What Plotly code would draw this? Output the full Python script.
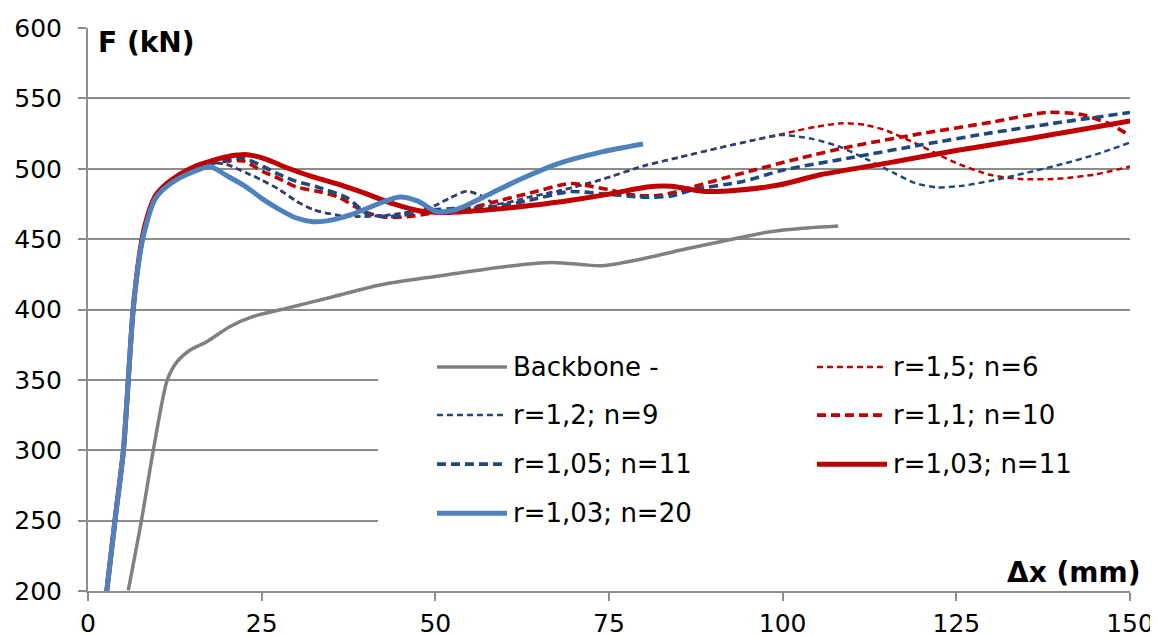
import plotly.graph_objects as go

# ---------------- data ----------------
backbone_x = [5.8, 7.7, 9.4, 11.4, 12.8, 14.7, 17.1, 20.4, 23.7, 28.6, 35.3, 42.0, 50.0, 57.0,
              64.6, 67.5, 71.0, 74.1, 79.0, 86.0, 93.4, 98.2, 103.0, 108.0]
backbone_y = [200.5, 250.3, 300.0, 349.8, 362.8, 371.2, 377.1, 387.8, 394.9, 400.9, 409.1, 417.4,
              423.5, 428.5, 432.9, 433.3, 432.0, 431.1, 435.2, 443.0, 450.6, 455.3, 457.8, 459.4]

r15_x = [2.7, 4.0, 5.1, 6.5, 7.5, 8.2, 9.6, 11.0, 13.2, 15.5, 18.0, 20.0, 22.8, 25.0, 27.6, 30.0,
         32.4, 35.8, 39.0, 43.0, 47.0, 50.0, 52.0, 54.5, 56.5, 58.8, 63.6, 68.0, 73.7, 80.0, 85.0,
         91.0, 96.0, 99.0, 102.0, 105.0, 108.7, 112.0, 115.0, 120.0, 125.0, 130.0, 134.6, 140.0,
         145.0, 150.0]
r15_y = [200, 255, 300, 400, 441, 459, 479, 487, 495, 500, 504, 503, 497, 492, 485, 477,
         471, 467.2, 466, 467, 470, 474, 479, 484, 481, 475, 480, 484.5, 492, 502, 508,
         515, 520.5, 523.5, 527, 530, 532.4, 531, 527, 516, 504, 495.5, 492.6, 493,
         496, 501.6]

r12_x = [2.7, 4.0, 5.1, 6.5, 7.5, 8.2, 9.6, 11.0, 13.2, 15.5, 18.0, 20.0, 22.8, 25.0, 27.6, 30.0,
         32.4, 35.8, 39.0, 43.0, 47.0, 50.0, 52.0, 54.5, 56.5, 58.8, 63.6, 68.0, 73.7, 80.0, 85.0,
         91.0, 96.0, 99.6, 104.0, 108.0, 112.0, 116.0, 119.0, 122.2, 126.0, 130.0, 135.0, 140.0,
         145.0, 150.0]
r12_y = [200, 255, 300, 400, 441, 459, 479, 487, 495, 500, 504, 503, 497, 492, 485, 477,
         471, 467.2, 466, 467, 470, 474, 479, 484, 481, 475, 480, 484.5, 492, 502, 508,
         515, 520.5, 524, 521.5, 516, 507, 497, 490, 486.7, 488, 491.5, 497, 503,
         510, 518.6]

r11_x = [2.7, 4.0, 5.1, 6.5, 7.5, 8.2, 9.6, 11.0, 13.2, 15.5, 18.0, 20.0, 22.4, 25.2, 27.5, 30.0,
         33.0, 36.0, 40.0, 43.0, 46.0, 49.0, 52.0, 55.0, 57.9, 63.0, 69.4, 72.0, 75.0, 79.0, 82.0,
         85.0, 87.0, 94.3, 102.5, 110.0, 120.0, 130.0, 138.0, 143.0, 147.0, 150.0]
r11_y = [200, 255, 300, 400, 441, 459, 479, 487, 495, 500, 504, 505.5, 505.5, 498, 493, 487,
         484, 480, 469, 465.5, 466, 468, 470, 472, 475.7, 482, 489.5, 488, 485, 481, 481,
         484, 487, 497, 507.5, 516, 525, 533, 540, 538.5, 532, 523.5]

r105_x = [2.7, 4.0, 5.1, 6.5, 7.5, 8.2, 9.6, 11.0, 13.2, 15.5, 18.0, 20.0, 22.4, 25.2, 27.5, 30.0,
          33.0, 37.3, 40.2, 43.0, 45.3, 48.8, 52.0, 55.0, 58.9, 63.0, 69.4, 74.0, 80.0, 84.0,
          87.0, 94.3, 100.0, 110.0, 120.0, 130.0, 140.0, 150.0]
r105_y = [200, 255, 300, 400, 441, 459, 479, 487, 495, 500, 504, 506.5, 507.5, 501.6, 496, 491,
          487, 479.3, 468, 466, 467, 470.5, 471.5, 472, 473.5, 477, 483.8, 482.2, 479.8, 480.7,
          485, 491, 499, 508, 517, 525.5, 533, 540]

r103n11_x = [2.7, 4.0, 5.1, 6.5, 7.5, 8.2, 9.6, 11.0, 13.2, 15.5, 18.0, 20.5, 22.9, 25.5, 29.0,
             32.4, 36.0, 39.6, 44.0, 47.8, 52.0, 58.0, 64.0, 70.0, 75.0, 80.5, 84.0, 88.5, 93.0,
             99.6, 105.4, 115.0, 125.0, 135.0, 142.0, 150.0]
r103n11_y = [200, 255, 300, 400, 442, 460, 480, 488, 496, 502, 506, 509, 510, 507, 500,
             494.2, 489, 483, 475, 470, 469, 471, 474, 478, 482, 487, 487.5, 484, 484.5,
             488.6, 495.7, 504, 513, 521, 527, 534]

r103n20_x = [2.7, 4.0, 5.1, 6.5, 7.5, 8.2, 9.6, 11.0, 13.2, 15.5, 17.6, 20.0, 22.8, 25.0, 27.6,
             30.0, 32.4, 35.0, 38.0, 42.0, 44.9, 47.5, 50.2, 53.0, 57.0, 62.0, 67.9, 74.0, 79.9]
r103n20_y = [200, 255, 300, 400, 440, 457, 478, 486, 493.5, 498.5, 501.6, 495, 487, 479, 471,
             465, 462.4, 463.5, 467.5, 475.5, 480, 477, 469.5, 471, 480, 492, 504, 512, 517.6]

series_names = ["Backbone -", "r=1,5; n=6", "r=1,2; n=9", "r=1,1; n=10",
                "r=1,05; n=11", "r=1,03; n=11", "r=1,03; n=20"]

x_ticks = [0, 25, 50, 75, 100, 125, 150]
y_ticks = [200, 250, 300, 350, 400, 450, 500, 550, 600]

# ---------------- styles ----------------
RED = "#C00000"
DBLUE = "#1F497D"
LBLUE = "#4F81BD"
GREY = "#808080"
GRID = "#8C8C8C"
FONT = "DejaVu Sans"
FS = 26
FS_TICK = 25
FS_BOLD = 28

styles = [
    dict(color=GREY, width=3.5, dash="solid"),
    dict(color=RED, width=2.5, dash="6px,4px"),
    dict(color=DBLUE, width=2.5, dash="6px,4px"),
    dict(color=RED, width=3.6, dash="9px,5px"),
    dict(color=DBLUE, width=3.6, dash="9px,5px"),
    dict(color=RED, width=5, dash="solid"),
    dict(color=LBLUE, width=5, dash="solid"),
]

data = [(backbone_x, backbone_y), (r15_x, r15_y), (r12_x, r12_y), (r11_x, r11_y),
        (r105_x, r105_y), (r103n11_x, r103n11_y), (r103n20_x, r103n20_y)]

fig = go.Figure()
for (xs, ys), name, st in zip(data, series_names, styles):
    fig.add_trace(go.Scatter(
        x=xs, y=ys, name=name, mode="lines",
        line=dict(color=st["color"], width=st["width"], dash=st["dash"],
                  shape="spline", smoothing=0.7),
        showlegend=False, hoverinfo="x+y+name",
    ))

# ---------------- legend (drawn manually, two columns) ----------------
shapes = [dict(type="rect", xref="paper", yref="paper", x0=0.2783, x1=1.0, y0=0.075, y1=0.455,
               fillcolor="white", line=dict(width=0), layer="above")]
annotations = []
row_y = [0.3978, 0.3124, 0.2253, 0.1382]
col_x = [(0.3349, 0.4021, 0.4059), (0.6996, 0.7668, 0.7706)]
for i, (name, st) in enumerate(zip(series_names, styles)):
    r, c = divmod(i, 2)
    x0, x1, xt = col_x[c]
    y = row_y[r]
    shapes.append(dict(type="line", xref="paper", yref="paper", x0=x0, x1=x1, y0=y, y1=y,
                       line=dict(color=st["color"], width=st["width"], dash=st["dash"]),
                       layer="above"))
    annotations.append(dict(text=name, xref="paper", yref="paper", x=xt, y=y,
                            xanchor="left", yanchor="middle", showarrow=False,
                            font=dict(family=FONT, size=FS, color="black")))

annotations.append(dict(text="<b>F (kN)</b>", xref="paper", yref="paper", x=0.0077, y=0.974,
                        xanchor="left", yanchor="middle", showarrow=False,
                        font=dict(family=FONT, size=FS_BOLD, color="black")))
annotations.append(dict(text="<b>Δx (mm)</b>", xref="paper", yref="paper", x=1.0115, y=0.033,
                        xanchor="right", yanchor="middle", showarrow=False,
                        font=dict(family=FONT, size=FS_BOLD, color="black")))

# the page body adds an 8 px offset, so the figure is sized to fit the window
fig.update_layout(
    template="none",
    width=1150, height=629,
    margin=dict(l=80, r=28, t=20, b=46, autoexpand=False),
    paper_bgcolor="white", plot_bgcolor="white",
    font=dict(family=FONT, size=FS, color="black"),
    shapes=shapes, annotations=annotations,
    showlegend=False,
)
fig.update_xaxes(range=[0, 150], tickvals=x_ticks, ticktext=[str(v) for v in x_ticks],
                 automargin=False,
                 showgrid=False, zeroline=False, showline=True, linecolor=GRID, linewidth=2,
                 ticks="outside", ticklen=8, tickwidth=2, tickcolor=GRID,
                 tickfont=dict(family=FONT, size=FS_TICK, color="black"), ticklabelstandoff=1)
fig.update_yaxes(range=[200, 600], tickvals=y_ticks, ticktext=[str(v) for v in y_ticks],
                 automargin=False,
                 showgrid=True, gridcolor=GRID, gridwidth=2, zeroline=False,
                 showline=True, linecolor=GRID, linewidth=2,
                 ticks="outside", ticklen=8, tickwidth=2, tickcolor=GRID,
                 tickfont=dict(family=FONT, size=FS_TICK, color="black"), ticklabelstandoff=11)

fig.write_html("out.html")
